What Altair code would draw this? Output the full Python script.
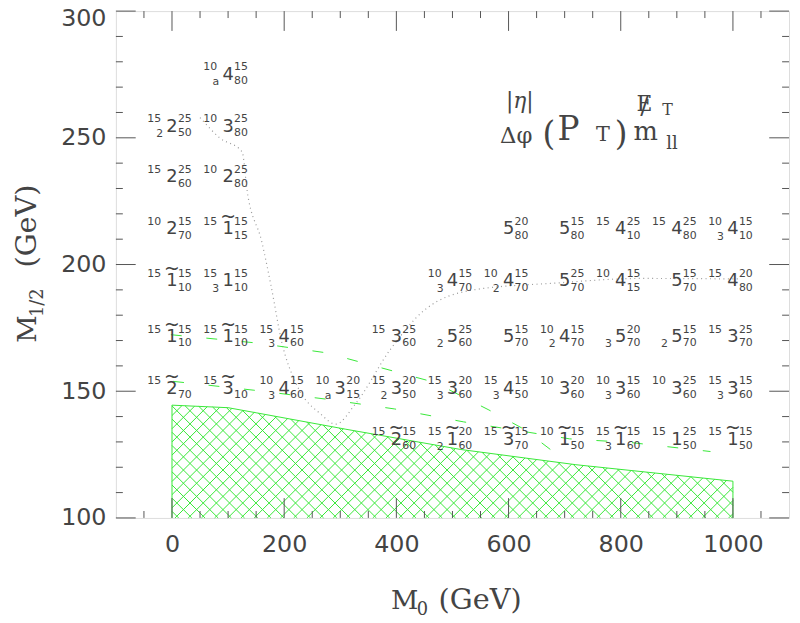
import altair as alt
import pandas as pd
import numpy as np

# ---------------- data ----------------
label_x = [100,
           0, 100,
           0, 100,
           0, 100, 600, 700, 800, 900, 1000,
           0, 100, 500, 600, 700, 800, 900, 1000,
           0, 100, 200, 400, 500, 600, 700, 800, 900, 1000,
           0, 100, 200, 300, 400, 500, 600, 700, 800, 900, 1000,
           400, 500, 600, 700, 800, 900, 1000]
label_y = [275.5,
           255, 255,
           235, 235,
           214.5, 214.5, 214.5, 214.5, 214.5, 214.5, 214.5,
           194, 194, 194, 194, 194, 194, 194, 194,
           172, 172, 172, 172, 172, 172, 172, 172, 172, 172,
           151.5, 151.5, 151.5, 151.5, 151.5, 151.5, 151.5, 151.5, 151.5, 151.5, 151.5,
           131.5, 131.5, 131.5, 131.5, 131.5, 131.5, 131.5]
main_digit = ["4",
              "2", "3",
              "2", "2",
              "2", "1", "5", "5", "4", "4", "4",
              "1", "1", "4", "4", "5", "4", "5", "4",
              "1", "1", "4", "3", "5", "5", "4", "5", "5", "3",
              "2", "3", "4", "3", "3", "3", "4", "3", "3", "3", "3",
              "2", "1", "3", "1", "1", "1", "1"]
has_tilde = [0,
             0, 0,
             0, 0,
             0, 1, 0, 0, 0, 0, 0,
             1, 0, 0, 0, 0, 0, 0, 0,
             1, 1, 0, 0, 0, 0, 0, 0, 0, 0,
             1, 1, 0, 0, 0, 0, 0, 0, 0, 0, 0,
             1, 1, 1, 1, 1, 0, 1]
left_sup = ["10",
            "15", "10",
            "15", "10",
            "10", "15", "", "", "15", "15", "10",
            "15", "15", "10", "10", "", "10", "", "15",
            "15", "15", "15", "15", "", "", "10", "", "", "15",
            "15", "15", "10", "10", "15", "15", "15", "10", "10", "10", "15",
            "15", "15", "15", "10", "15", "15", "15"]
left_sub = ["a",
            "2", "",
            "", "",
            "", "", "", "", "", "", "3",
            "", "3", "3", "2", "", "", "", "",
            "", "", "3", "", "2", "", "2", "3", "2", "",
            "", "", "3", "a", "2", "3", "3", "", "3", "", "3",
            "", "2", "", "", "3", "", ""]
right_sup = ["15",
             "25", "25",
             "25", "25",
             "15", "15", "20", "15", "25", "25", "15",
             "15", "15", "15", "15", "25", "15", "15", "20",
             "15", "15", "15", "25", "25", "15", "15", "20", "15", "25",
             "", "", "15", "20", "20", "20", "15", "20", "15", "25", "15",
             "15", "20", "15", "15", "15", "25", "15"]
right_sub = ["80",
             "50", "80",
             "60", "80",
             "70", "15", "80", "80", "10", "80", "10",
             "10", "10", "70", "70", "70", "15", "70", "80",
             "10", "10", "60", "60", "60", "70", "70", "70", "70", "70",
             "70", "10", "60", "15", "50", "60", "50", "60", "60", "60", "60",
             "60", "60", "70", "50", "60", "50", "50"]

# excluded (hatched) region: upper boundary
hatch_top_x = [0, 100, 150, 310, 515, 720, 1000]
hatch_top_y = [144.5, 143.5, 141.5, 135, 127, 121, 114.5]

# dotted grey contour
dotted_x = [50, 85, 125, 134, 160, 178, 195, 222, 265, 292, 327, 389, 450, 538, 679, 837, 1010]
dotted_y = [258, 250, 244.5, 229, 209, 190, 170, 152.7, 141, 137, 145, 166.4, 182, 190, 192.6, 194.5, 194.3]

# green dashed contours
dashA_x = [-2, 148, 274, 397, 468, 565, 626, 696]
dashA_y = [172.3, 169.1, 165.2, 157.8, 153.5, 142.6, 135.2, 123.4]
dashB_x = [2, 146, 274, 397, 520, 709, 820, 960]
dashB_y = [153.9, 150.4, 146.9, 143.0, 137.9, 131.2, 129.7, 126.2]

x_major = [0, 200, 400, 600, 800, 1000]
x_minor = [-50, 50, 100, 150, 250, 300, 350, 450, 500, 550, 650, 700, 750, 850, 900, 950, 1050]
y_major = [100, 150, 200, 250, 300]
y_minor = [110, 120, 130, 140, 160, 170, 180, 190, 210, 220, 230, 240, 260, 270, 280, 290]

# ---------------- layout ----------------
W, H = 680, 512
XD, YD = [-100, 1100], [100, 300]
xs = alt.Scale(domain=XD, nice=False, zero=False)
ys = alt.Scale(domain=YD, nice=False, zero=False)
TXT = "#444444"
GREEN = "#38e838"
SANS = "DejaVu Sans"
SERIF = "DejaVu Serif"

AXX = alt.Axis(values=x_major, ticks=False, domain=False, grid=False, labelFont=SANS,
               labelFontSize=24, labelColor=TXT, labelPadding=15, title=None,
               labelFlush=False, format="d")
AXY = alt.Axis(values=y_major, ticks=False, domain=False, grid=False, labelFont=SANS,
               labelFontSize=24, labelColor=TXT, labelPadding=10, title=None,
               labelFlush=False, format="d",
               labelOffset={"condition": {"test": "datum.value === 300", "value": 8}, "value": 0})

one = pd.DataFrame({"k": [0]})


def X(field="x"):
    return alt.X(f"{field}:Q", scale=xs, axis=AXX)


def Y(field="y"):
    return alt.Y(f"{field}:Q", scale=ys, axis=AXY)


# --- hatch segments computed from boundary ---
kslope = (W / (XD[1] - XD[0])) / (H / (YD[1] - YD[0]))  # 45 degree in pixels
step = 23.5
fine = np.linspace(0, 1000, 4001)
top = np.interp(fine, hatch_top_x, hatch_top_y)
segs = []
for c in np.arange(-300, 1000, step):
    f = 100 + kslope * (fine - c) - top
    x_lo = max(c, 0.0)
    if 100 + kslope * (x_lo - c) >= np.interp(x_lo, hatch_top_x, hatch_top_y):
        continue
    x_hi = 1000.0 if f[-1] < 0 else float(np.interp(0, f, fine))
    segs.append((x_lo, 100 + kslope * (x_lo - c), x_hi, 100 + kslope * (x_hi - c)))
for c in np.arange(step / 2, 1300, step):
    f = 100 + kslope * (c - fine) - top
    x_hi = min(c, 1000.0)
    if f[0] <= 0:
        x_lo = 0.0
    else:
        if f[-1] > 0:
            continue
        x_lo = float(np.interp(0, -f, fine))
    if x_lo >= x_hi:
        continue
    segs.append((x_lo, 100 + kslope * (c - x_lo), x_hi, 100 + kslope * (c - x_hi)))
hatch = pd.DataFrame(segs, columns=["x", "y", "x2", "y2"])

poly = pd.DataFrame({"x": [0] + hatch_top_x + [1000], "y": [100] + hatch_top_y + [100]})
poly["i"] = range(len(poly))

hatch_layer = alt.Chart(hatch).mark_rule(color=GREEN, strokeWidth=1).encode(
    x=X(), y=Y(), x2="x2:Q", y2="y2:Q")
outline = alt.Chart(poly).mark_line(color=GREEN, strokeWidth=1).encode(
    x=X(), y=Y(), order="i:Q")

dots = pd.DataFrame({"x": dotted_x, "y": dotted_y, "i": range(len(dotted_x))})
dotted = alt.Chart(dots).mark_line(color="#9a9a9a", strokeWidth=1.2, strokeDash=[1, 3.5],
                                   interpolate="monotone").encode(x=X(), y=Y(), order="i:Q")

dA = pd.DataFrame({"x": dashA_x, "y": dashA_y, "i": range(len(dashA_x))})
dB = pd.DataFrame({"x": dashB_x, "y": dashB_y, "i": range(len(dashB_x))})
dashA = alt.Chart(dA).mark_line(color=GREEN, strokeWidth=1, strokeDash=[11, 25]).encode(
    x=X(), y=Y(), order="i:Q")
dashB = alt.Chart(dB).mark_line(color=GREEN, strokeWidth=1, strokeDash=[11, 25]).encode(
    x=X(), y=Y(), order="i:Q")

# --- grid labels ---
lab = pd.DataFrame({"x": label_x, "y": label_y, "main": main_digit, "tilde": has_tilde,
                    "lsup": left_sup, "lsub": left_sub, "rsup": right_sup, "rsub": right_sub})

base = alt.Chart(lab).encode(x=X(), y=Y())
main_t = base.mark_text(font=SANS, fontSize=18, color=TXT, align="center",
                        baseline="alphabetic", dy=6.5).encode(text="main:N")
tilde_t = base.transform_filter("datum.tilde == 1").mark_text(
    font=SANS, fontSize=19, color=TXT, align="center", baseline="alphabetic", dy=-4.5,
    text="~")
lsup_t = base.mark_text(font=SANS, fontSize=11, color=TXT, align="right",
                        baseline="alphabetic", dx=-11, dy=-3).encode(text="lsup:N")
lsub_t = base.mark_text(font=SANS, fontSize=11, color=TXT, align="right",
                        baseline="alphabetic", dx=-9, dy=12).encode(text="lsub:N")
rsup_t = base.mark_text(font=SANS, fontSize=11, color=TXT, align="left",
                        baseline="alphabetic", dx=6, dy=-3).encode(text="rsup:N")
rsub_t = base.mark_text(font=SANS, fontSize=11, color=TXT, align="left",
                        baseline="alphabetic", dx=6, dy=11).encode(text="rsub:N")


# --- frame ticks (inward) ---
def vticks(vals, length, where):
    c = alt.Chart(pd.DataFrame({"v": vals})).mark_rule(color="#555555", strokeWidth=1)
    if where == "bottom":
        return c.encode(x=X("v"), y=alt.value(H), y2=alt.value(H - length))
    return c.encode(x=X("v"), y=alt.value(0), y2=alt.value(length))


def hticks(vals, length, where):
    c = alt.Chart(pd.DataFrame({"v": vals})).mark_rule(color="#555555", strokeWidth=1)
    if where == "left":
        return c.encode(y=Y("v"), x=alt.value(0), x2=alt.value(length))
    return c.encode(y=Y("v"), x=alt.value(W - length), x2=alt.value(W))


ticks = [vticks(x_major, 20, "bottom"), vticks(x_minor, 7, "bottom"),
         vticks(x_major, 20, "top"), vticks(x_minor, 7, "top"),
         hticks(y_major, 20, "left"), hticks(y_minor, 7, "left"),
         hticks(y_major, 20, "right"), hticks(y_minor, 7, "right")]


def ptext(txt, px, py, size, font=SERIF, align="left", angle=0, style="normal"):
    return alt.Chart(one).mark_text(text=txt, font=font, fontSize=size, color=TXT,
                                    align=align, baseline="alphabetic", angle=angle,
                                    fontStyle=style).encode(
        x=alt.value(px), y=alt.value(py))


titles = [
    ptext("M", 278, 604, 27), ptext("0", 304, 610, 18), ptext("(GeV)", 326, 604, 29),
    ptext("M", -81, 335, 27, angle=270), ptext("1/2", -74, 309, 18, angle=270),
    ptext("(GeV)", -81, 259, 29, angle=270),
]

legend = [
    ptext("|η|", 394, 98, 22, style="italic"),
    ptext("Δφ", 388, 133, 23),
    ptext("(", 431, 135, 33),
    ptext("P", 446, 130, 33),
    ptext("T", 485, 131, 21),
    ptext(")", 504, 135, 33),
    ptext("E", 526, 101, 22),
    ptext("/", 534, 104, 25, align="center"),
    ptext("T", 552, 105, 16),
    ptext("m", 523, 130, 26),
    ptext("ll", 556, 139, 18),
]

chart = alt.layer(
    hatch_layer, outline, *ticks, dotted, dashA, dashB,
    main_t, tilde_t, lsup_t, lsub_t, rsup_t, rsub_t,
    *titles, *legend,
).properties(
    width=W, height=H,
    autosize=alt.AutoSizeParams(type="none"),
    padding={"left": 109, "top": 0, "right": 3, "bottom": 103},
).configure_view(stroke="#555555", strokeWidth=1).configure(background="white")

chart.save("out.html", embed_options={"renderer": "svg", "actions": False})
